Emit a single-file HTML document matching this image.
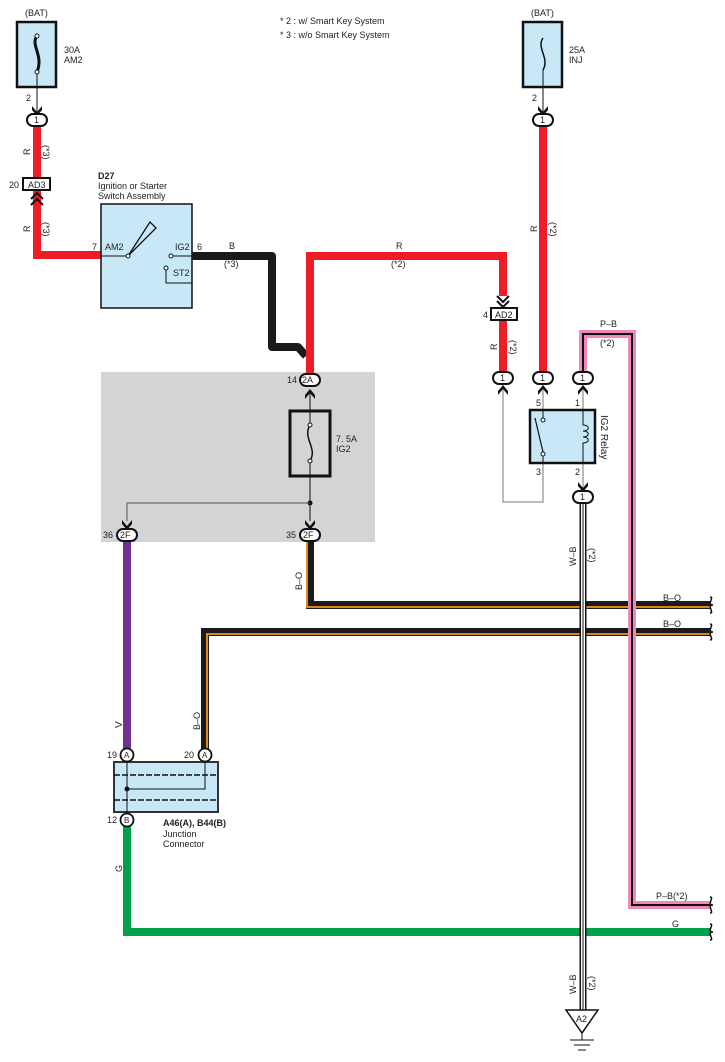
<!DOCTYPE html>
<html><head><meta charset="utf-8"><style>
html,body{margin:0;padding:0;background:#fff}
svg{display:block}
text{font-family:"Liberation Sans",sans-serif;font-size:9px;fill:#222}
</style></head><body>
<svg width="725" height="1062" viewBox="0 0 725 1062" xmlns="http://www.w3.org/2000/svg">
<defs>
<g id="oval"><rect x="-10" y="-6" width="20" height="12" rx="6" fill="#fff" stroke="#111" stroke-width="2"/></g>
<g id="arrDown"><path d="M-5,-6 L0,0 L5,-6 L5,-2 L0,4 L-5,-2Z" fill="#111"/></g>
<g id="arrUp"><path d="M-5,6 L0,0 L5,6 L5,2 L0,-4 L-5,2Z" fill="#111"/></g>
<g id="wave"><path d="M0,-8 C5,-8 -4,0 3,0 C-4,0 5,8 0,8" fill="none" stroke="#111" stroke-width="1.5"/></g>
</defs>

<!-- legend -->
<text x="280" y="24">* 2 : w/ Smart Key System</text>
<text x="280" y="38">* 3 : w/o Smart Key System</text>

<!-- gray block -->
<rect x="101" y="372" width="274" height="170" fill="#d3d4d6"/>

<!-- left fuse AM2 -->
<text x="25" y="16">(BAT)</text>
<rect x="17" y="22" width="39" height="65" fill="#c8e8f8" stroke="#111" stroke-width="2.5"/>
<path d="M37,36 C30,45 44,55 37,72" fill="none" stroke="#111" stroke-width="3"/>
<circle cx="37" cy="36" r="2" fill="#fff" stroke="#111"/><circle cx="37" cy="72" r="2" fill="#fff" stroke="#111"/>
<line x1="37" y1="74" x2="37" y2="112" stroke="#111" stroke-width="1"/>
<text x="64" y="53">30A</text><text x="64" y="63">AM2</text>
<text x="26" y="101">2</text>
<use href="#arrDown" x="37" y="112"/>
<path d="M37,126 V255 H101" fill="none" stroke="#ee1c25" stroke-width="8"/>
<use href="#oval" x="37" y="120"/><text x="34" y="123">1</text>
<text x="30" y="155" transform="rotate(-90 30 155)">R</text>
<text x="43" y="145" transform="rotate(90 43 145)">(*3)</text>
<rect x="23" y="178" width="27" height="12" fill="#fff" stroke="#111" stroke-width="2"/>
<text x="28" y="188">AD3</text><text x="9" y="188">20</text>
<path d="M31,199 L37,193 L43,199 M31,205 L37,199 L43,205" fill="none" stroke="#111" stroke-width="2"/>
<text x="30" y="232" transform="rotate(-90 30 232)">R</text>
<text x="43" y="222" transform="rotate(90 43 222)">(*3)</text>

<!-- D27 -->
<text x="98" y="179" style="font-weight:bold">D27</text>
<text x="98" y="189">Ignition or Starter</text>
<text x="98" y="199">Switch Assembly</text>
<rect x="101" y="204" width="91" height="104" fill="#c8e8f8" stroke="#111" stroke-width="1.5"/>
<line x1="101" y1="256" x2="128" y2="256" stroke="#111"/>
<path d="M128,256 L150,222 L156,228 Z" fill="none" stroke="#111" stroke-width="1.3"/>
<circle cx="128" cy="256" r="2" fill="#fff" stroke="#111"/>
<circle cx="171" cy="256" r="2" fill="#fff" stroke="#111"/>
<line x1="173" y1="256" x2="192" y2="256" stroke="#111"/>
<circle cx="166" cy="268" r="2" fill="#fff" stroke="#111"/>
<path d="M166,270 V283 H192" fill="none" stroke="#111"/>
<text x="92" y="250">7</text><text x="105" y="250">AM2</text>
<text x="175" y="250">IG2</text><text x="197" y="250">6</text>
<text x="173" y="276">ST2</text>

<!-- B wire -->
<path d="M192,256 H272 V347 H298 L306,356" fill="none" stroke="#1a1a1a" stroke-width="8" stroke-linejoin="round"/>
<text x="229" y="249">B</text><text x="224" y="267">(*3)</text>
<!-- R wire center -->
<path d="M310,374 V256 H503 V296" fill="none" stroke="#ee1c25" stroke-width="8"/>
<text x="396" y="249">R</text><text x="391" y="267">(*2)</text>

<!-- 2A and IG2 fuse -->
<use href="#oval" x="310" y="380"/><text x="302" y="383">2A</text><text x="287" y="383">14</text>
<use href="#arrUp" x="310" y="393"/>
<line x1="310" y1="393" x2="310" y2="521" stroke="#111"/>
<rect x="290" y="411" width="40" height="65" fill="none" stroke="#111" stroke-width="3"/>
<path d="M310,425 C302,435 318,450 310,461" fill="none" stroke="#111" stroke-width="1.5" fill-opacity="0"/>
<rect x="300" y="420" width="20" height="46" fill="#d3d4d6"/>
<path d="M310,425 C302,438 318,448 310,461" fill="none" stroke="#111" stroke-width="1.5"/>
<line x1="310" y1="411" x2="310" y2="425" stroke="#111"/><line x1="310" y1="461" x2="310" y2="476" stroke="#111"/>
<circle cx="310" cy="425" r="2" fill="#fff" stroke="#111"/><circle cx="310" cy="461" r="2" fill="#fff" stroke="#111"/>
<text x="336" y="442">7. 5A</text><text x="336" y="452">IG2</text>
<circle cx="310" cy="503" r="2.5" fill="#111"/>
<path d="M310,503 H127 V521" fill="none" stroke="#555"/>
<use href="#arrDown" x="127" y="526"/><use href="#arrDown" x="310" y="526"/>

<!-- purple -->
<line x1="127" y1="540" x2="127" y2="750" stroke="#70308f" stroke-width="8"/>
<use href="#oval" x="127" y="535"/><text x="120" y="538">2F</text><text x="103" y="538">36</text>
<text x="122" y="728" transform="rotate(-90 122 728)" style="font-size:10px">V</text>

<!-- B-O wires -->
<path d="M310,541 V605 H710" fill="none" stroke="#1a1a1a" stroke-width="8"/>
<path d="M307,541 V607 H710" fill="none" stroke="#f7941d" stroke-width="1.8"/>
<path d="M205,750 V632 H710" fill="none" stroke="#1a1a1a" stroke-width="8"/>
<path d="M207,750 V634 H710" fill="none" stroke="#f7941d" stroke-width="1.8"/>
<use href="#oval" x="310" y="535"/><text x="303" y="538">2F</text><text x="286" y="538">35</text>
<text x="302" y="590" transform="rotate(-90 302 590)">B–O</text>
<text x="200" y="730" transform="rotate(-90 200 730)">B–O</text>
<text x="663" y="601">B–O</text><text x="663" y="627">B–O</text>
<use href="#wave" x="710" y="605"/><use href="#wave" x="710" y="632"/>

<!-- junction connector -->
<line x1="127" y1="826" x2="127" y2="932" stroke="#00a14b" stroke-width="8"/>
<path d="M123,932 H710" fill="none" stroke="#00a14b" stroke-width="8"/>
<text x="672" y="927">G</text>
<text x="122" y="872" transform="rotate(-90 122 872)">G</text>
<rect x="114" y="762" width="104" height="50" fill="#c8e8f8" stroke="#333" stroke-width="2"/>
<line x1="114" y1="775" x2="218" y2="775" stroke="#111" stroke-width="1.5" stroke-dasharray="6,2"/>
<line x1="114" y1="800" x2="218" y2="800" stroke="#111" stroke-width="1.5" stroke-dasharray="6,2"/>
<line x1="127" y1="762" x2="127" y2="814" stroke="#111"/>
<circle cx="127" cy="789" r="2.5" fill="#111"/>
<path d="M127,789 H205 V762" fill="none" stroke="#111"/>
<circle cx="127" cy="755" r="6.5" fill="#fff" stroke="#111" stroke-width="1.8"/><text x="124" y="758" style="font-size:8px">A</text>
<circle cx="205" cy="755" r="6.5" fill="#fff" stroke="#111" stroke-width="1.8"/><text x="202" y="758" style="font-size:8px">A</text>
<circle cx="127" cy="820" r="6.5" fill="#fff" stroke="#111" stroke-width="1.8"/><text x="124" y="823" style="font-size:8px">B</text>
<text x="107" y="758">19</text><text x="184" y="758">20</text><text x="107" y="823">12</text>
<text x="163" y="826" style="font-weight:bold">A46(A), B44(B)</text>
<text x="163" y="837">Junction</text><text x="163" y="847">Connector</text>

<!-- right fuse INJ -->
<text x="531" y="16">(BAT)</text>
<rect x="523" y="22" width="39" height="65" fill="#c8e8f8" stroke="#111" stroke-width="2.5"/>
<path d="M543,38 C536,48 550,58 543,70" fill="none" stroke="#111" stroke-width="1.5"/>
<line x1="543" y1="70" x2="543" y2="112" stroke="#111"/>
<text x="569" y="53">25A</text><text x="569" y="63">INJ</text>
<text x="532" y="101">2</text>
<use href="#arrDown" x="543" y="112"/>
<line x1="543" y1="126" x2="543" y2="372" stroke="#ee1c25" stroke-width="8"/>
<use href="#oval" x="543" y="120"/><text x="540" y="123">1</text>
<text x="537" y="232" transform="rotate(-90 537 232)">R</text>
<text x="550" y="222" transform="rotate(90 550 222)">(*2)</text>

<!-- AD2 -->
<path d="M497,296 L503,302 L509,296 M497,301 L503,307 L509,301" fill="none" stroke="#111" stroke-width="2"/>
<line x1="503" y1="320" x2="503" y2="372" stroke="#ee1c25" stroke-width="8"/>
<rect x="491" y="308" width="26" height="12" fill="#fff" stroke="#111" stroke-width="2"/>
<text x="495" y="318">AD2</text><text x="483" y="318">4</text>
<text x="497" y="350" transform="rotate(-90 497 350)">R</text>
<text x="510" y="340" transform="rotate(90 510 340)">(*2)</text>

<!-- pink wire -->
<path d="M583,372 V334 H632 V905 H710" fill="none" stroke="#f088b8" stroke-width="8"/>
<path d="M583,372 V334 H632 V905 H710" fill="none" stroke="#111" stroke-width="2"/>
<text x="600" y="327">P–B</text><text x="600" y="346">(*2)</text>
<text x="656" y="899">P–B(*2)</text>
<use href="#wave" x="710" y="905"/><use href="#wave" x="710" y="932"/>

<!-- relay ovals -->
<use href="#oval" x="503" y="378"/><text x="500" y="381">1</text>
<use href="#oval" x="543" y="378"/><text x="540" y="381">1</text>
<use href="#oval" x="583" y="378"/><text x="580" y="381">1</text>
<use href="#arrUp" x="503" y="389"/><use href="#arrUp" x="543" y="389"/><use href="#arrUp" x="583" y="389"/>
<path d="M503,389 V502 H543 V463" fill="none" stroke="#777"/>
<line x1="543" y1="389" x2="543" y2="410" stroke="#777"/>
<line x1="583" y1="389" x2="583" y2="490" stroke="#777"/>
<rect x="530" y="410" width="65" height="53" fill="#c8e8f8" stroke="#111" stroke-width="2.5"/>
<line x1="543" y1="420" x2="543" y2="456" stroke="#c8e8f8"/>
<line x1="535" y1="418" x2="543" y2="452" stroke="#111" stroke-width="1.2"/>
<circle cx="543" cy="420" r="2" fill="#fff" stroke="#111"/><circle cx="543" cy="454" r="2" fill="#fff" stroke="#111"/>
<line x1="543" y1="410" x2="543" y2="418" stroke="#111"/><line x1="543" y1="456" x2="543" y2="463" stroke="#111"/>
<path d="M583,410 V425 C590,425 590,431 583,431 C590,431 590,437 583,437 C590,437 590,443 583,443 V463" fill="none" stroke="#111"/>
<text x="536" y="406">5</text><text x="575" y="406">1</text>
<text x="536" y="475">3</text><text x="575" y="475">2</text>
<text x="601" y="415" transform="rotate(90 601 415)" style="font-size:10px">IG2 Relay</text>
<use href="#arrDown" x="583" y="488"/>

<!-- W-B -->
<line x1="583" y1="503" x2="583" y2="1012" stroke="#111" stroke-width="7"/>
<line x1="583" y1="503" x2="583" y2="1012" stroke="#fff" stroke-width="4"/>
<line x1="583" y1="503" x2="583" y2="1012" stroke="#111" stroke-width="1"/>
<use href="#oval" x="583" y="497"/><text x="580" y="500">1</text>
<text x="576" y="566" transform="rotate(-90 576 566)">W–B</text>
<text x="589" y="548" transform="rotate(90 589 548)">(*2)</text>
<text x="576" y="994" transform="rotate(-90 576 994)">W–B</text>
<text x="589" y="976" transform="rotate(90 589 976)">(*2)</text>
<path d="M566,1010 H598 L582,1033 Z" fill="#fff" stroke="#111" stroke-width="1.5"/>
<text x="576" y="1022">A2</text>
<line x1="582" y1="1033" x2="582" y2="1040" stroke="#111"/>
<line x1="570" y1="1040" x2="594" y2="1040" stroke="#111"/>
<line x1="574" y1="1045" x2="590" y2="1045" stroke="#111"/>
<line x1="578" y1="1050" x2="586" y2="1050" stroke="#111"/>
</svg>
</body></html>
